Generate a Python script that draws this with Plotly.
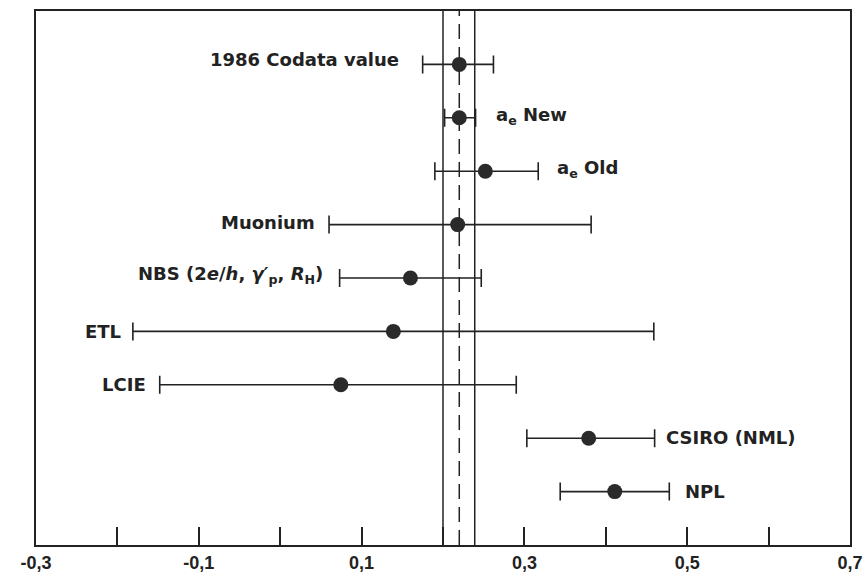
import plotly.graph_objects as go

# ---- data ----
labels = [
    "1986 Codata value",
    "a<sub>e</sub> New",
    "a<sub>e</sub> Old",
    "Muonium",
    "NBS (2<i>e</i>/<i>h</i>, <i>γ</i>′<sub>p</sub>, <i>R</i><sub>H</sub>)",
    "ETL",
    "LCIE",
    "CSIRO (NML)",
    "NPL",
]
values = [0.220, 0.220, 0.252, 0.218, 0.160, 0.139, 0.0745, 0.379, 0.411]
lower = [0.175, 0.202, 0.190, 0.060, 0.073, -0.181, -0.148, 0.303, 0.344]
upper = [0.262, 0.240, 0.317, 0.382, 0.247, 0.459, 0.290, 0.460, 0.478]
rows = [1, 2, 3, 4, 5, 6, 7, 8, 9]

band_low = 0.200
band_high = 0.239
band_center = 0.220

tick_vals = [-0.3, -0.2, -0.1, 0.0, 0.1, 0.2, 0.3, 0.4, 0.5, 0.6, 0.7]
tick_text = ["-0,3", "", "-0,1", "", "0,1", "", "0,3", "", "0,5", "", "0,7"]

# ---- label placement (style, not data) ----
label_side = ["left", "right", "right", "left", "left", "left", "left", "right", "right"]
label_gap = [22, 18, 17, 12, 15, 10, 12, 9, 14]
label_yshift = [5, 2, 2, 2, 3, 0, 0, 1, 0]

ink = "#222222"
font_family = "DejaVu Sans, Liberation Sans, Arial, sans-serif"

fig = go.Figure()

fig.add_trace(go.Scatter(
    x=values,
    y=rows,
    mode="markers",
    marker=dict(size=15, color="#2a2a2a", line=dict(width=0)),
    error_x=dict(
        type="data",
        symmetric=False,
        array=[u - v for u, v in zip(upper, values)],
        arrayminus=[v - l for v, l in zip(values, lower)],
        color=ink,
        thickness=1.6,
        width=9,
    ),
    showlegend=False,
    hoverinfo="skip",
))

shapes = []
for xv, dash in [(band_low, "solid"), (band_high, "solid"), (band_center, "15px,8px")]:
    shapes.append(dict(
        type="line", xref="x", yref="paper",
        x0=xv, x1=xv, y0=0, y1=1,
        line=dict(color=ink, width=1.5, dash=dash),
        layer="below",
    ))

annotations = []
for lab, side, gap, ys, lo, hi, r in zip(labels, label_side, label_gap, label_yshift, lower, upper, rows):
    if side == "left":
        ax, anchor, shift = lo, "right", -gap
    else:
        ax, anchor, shift = hi, "left", gap
    annotations.append(dict(
        x=ax, y=r, xref="x", yref="y",
        text=lab, showarrow=False,
        xanchor=anchor, yanchor="middle",
        xshift=shift, yshift=ys,
        font=dict(family=font_family, size=18, color=ink, weight="bold"),
    ))

fig.update_layout(
    width=865, height=576,
    margin=dict(l=36, r=15, t=11, b=31),
    paper_bgcolor="white",
    plot_bgcolor="white",
    shapes=shapes,
    annotations=annotations,
    xaxis=dict(
        range=[-0.3, 0.70001],
        tickvals=tick_vals,
        ticktext=tick_text,
        ticks="inside",
        ticklen=18,
        tickwidth=2,
        tickcolor=ink,
        ticklabeloverflow="allow",
        showgrid=False,
        zeroline=False,
        showline=True,
        linecolor=ink,
        linewidth=2,
        mirror=True,
        automargin=False,
        tickfont=dict(family="Liberation Sans, Arial, sans-serif", size=18, color=ink, weight="bold"),
    ),
    yaxis=dict(
        range=[10, 0],
        showticklabels=False,
        ticks="",
        showgrid=False,
        zeroline=False,
        showline=True,
        linecolor=ink,
        linewidth=2,
        mirror=True,
        automargin=False,
    ),
)

fig.write_html("out.html")
